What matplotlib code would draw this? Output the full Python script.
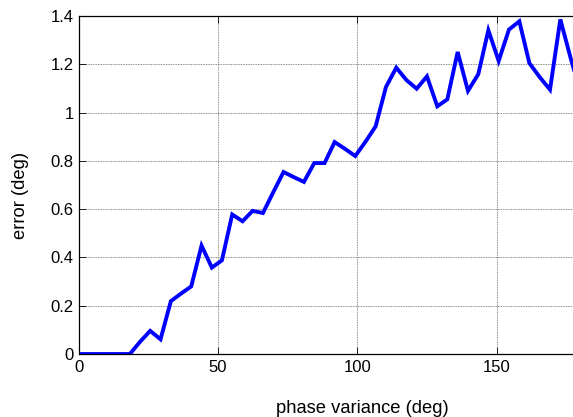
import matplotlib
matplotlib.use("Agg")
import matplotlib.pyplot as plt

phase_variance = [0.0, 3.7, 7.3, 11.0, 14.7, 18.4, 22.0, 25.7, 29.4, 33.1,
                  36.7, 40.4, 44.1, 47.8, 51.4, 55.1, 58.8, 62.4, 66.1, 69.8,
                  73.5, 77.1, 80.8, 84.5, 88.2, 91.8, 95.5, 99.2, 102.9, 106.5,
                  110.2, 113.9, 117.6, 121.2, 124.9, 128.6, 132.2, 135.9, 139.6, 143.3,
                  146.9, 150.6, 154.3, 158.0, 161.6, 165.3, 169.0, 172.7, 176.3, 180.0]
error = [0.0, 0.0, 0.0, 0.0, 0.0, 0.0, 0.05, 0.096, 0.061, 0.219,
         0.25, 0.28, 0.449, 0.358, 0.388, 0.578, 0.55, 0.593, 0.584, 0.67,
         0.754, 0.733, 0.713, 0.791, 0.791, 0.878, 0.85, 0.82, 0.88, 0.943,
         1.106, 1.186, 1.134, 1.099, 1.150, 1.026, 1.055, 1.251, 1.09, 1.159,
         1.341, 1.214, 1.344, 1.378, 1.205, 1.147, 1.095, 1.386, 1.23, 1.08]
x_ticks = [0, 50, 100, 150]
y_ticks = [0, 0.2, 0.4, 0.6, 0.8, 1.0, 1.2, 1.4]
y_tick_labels = ["0", "0.2", "0.4", "0.6", "0.8", "1", "1.2", "1.4"]

plt.rcParams['font.family'] = ['Liberation Sans', 'DejaVu Sans']
plt.rcParams['font.size'] = 12

fig = plt.figure(figsize=(5.73, 4.17), dpi=100)
ax = fig.add_axes([0.137, 0.151, 0.9738, 0.8106])
ax.plot(phase_variance, error, color=(0, 0, 1), linewidth=2.8, solid_joinstyle='miter')
ax.set_xlim(0, 200)
ax.set_ylim(0, 1.4)
ax.set_xticks(x_ticks)
ax.set_yticks(y_ticks)
ax.set_yticklabels(y_tick_labels)
ax.grid(True, color='0.4', linestyle=(0, (1, 1)), linewidth=0.6)
ax.tick_params(direction='in', length=5, width=0.6, top=True, right=True, labelsize=12)
ax.tick_params(axis='x', pad=4.5)
ax.tick_params(axis='y', pad=3.5)
for s in ax.spines.values():
    s.set_linewidth(0.9)
ax.set_xlabel('phase variance (deg)', fontsize=13.2)
ax.set_ylabel('error (deg)', fontsize=13.2)
ax.xaxis.set_label_coords(0.509, -0.137)
ax.yaxis.set_label_coords(-0.0896, 0.47)

fig.savefig('out.png', dpi=100)
